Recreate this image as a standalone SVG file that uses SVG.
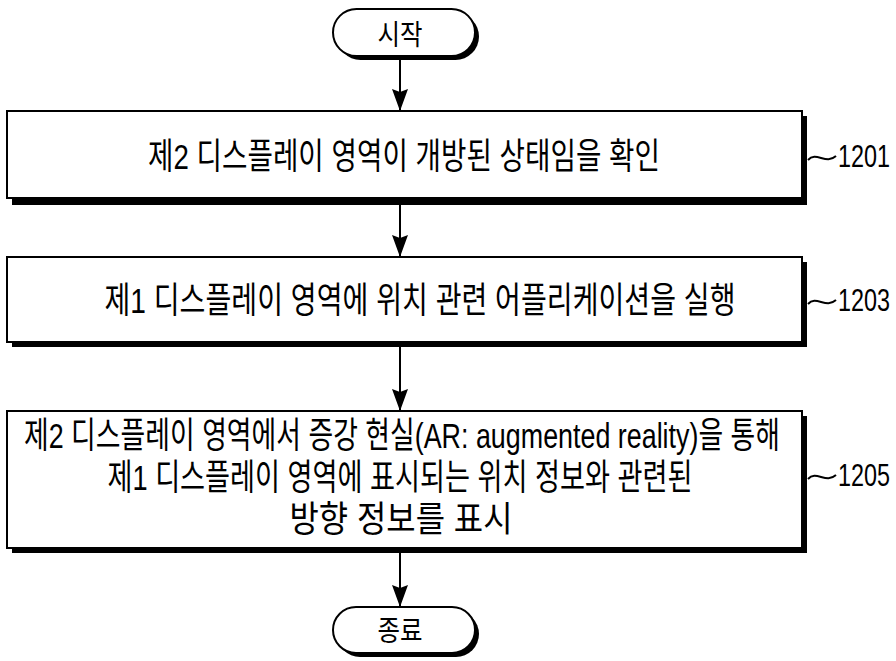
<svg xmlns="http://www.w3.org/2000/svg" width="896" height="661" viewBox="0 0 896 661">
<style>
.box{fill:#fff;stroke:#000;stroke-width:2}
.sh{fill:#000}
.t{font-family:"Liberation Sans","Noto Sans CJK KR",sans-serif;font-size:26px;fill:#000}
.ts{font-family:"Noto Sans CJK KR",sans-serif;font-size:23px;fill:#000}
.lbl{font-family:"Liberation Sans",sans-serif;font-size:23.5px;fill:#000}
.ln{stroke:#000;stroke-width:2;fill:none}
</style>
<rect width="896" height="661" fill="#fff"/>
<g id="connectors">
<line class="ln" x1="400" y1="57" x2="400" y2="111"/>
<path d="M392,89 L400,92 L408,89 L400,111 Z"/>
<line class="ln" x1="400" y1="205" x2="400" y2="257"/>
<path d="M392,235 L400,238 L408,235 L400,257 Z"/>
<line class="ln" x1="400" y1="347" x2="400" y2="411"/>
<path d="M392,389 L400,392 L408,389 L400,411 Z"/>
<line class="ln" x1="400" y1="553" x2="400" y2="607"/>
<path d="M392,585 L400,588 L408,585 L400,607 Z"/>
</g>
<g id="start">
<rect class="sh" x="337" y="13" width="142" height="47" rx="23.5"/>
<rect class="box" x="333" y="9" width="142" height="47" rx="23.5"/>
<text class="ts" transform="translate(400,45) scale(1,1.25)" text-anchor="middle" textLength="45" lengthAdjust="spacingAndGlyphs">시작</text>
</g>
<g id="n1201">
<rect class="sh" x="12" y="116" width="795" height="89"/>
<rect class="box" x="7" y="111" width="795" height="87"/>
<text class="t" transform="translate(404,169) scale(1,1.38)" text-anchor="middle" textLength="512" lengthAdjust="spacingAndGlyphs">제2 디스플레이 영역이 개방된 상태임을 확인</text>
<path class="ln" d="M808,160 C816,151 826,165 836,156"/>
<text class="lbl" transform="translate(838,167) scale(1,1.32)" textLength="52" lengthAdjust="spacingAndGlyphs">1201</text>
</g>
<g id="n1203">
<rect class="sh" x="12" y="262" width="795" height="85"/>
<rect class="box" x="7" y="257" width="795" height="85"/>
<text class="t" transform="translate(420,313) scale(1,1.38)" text-anchor="middle" textLength="631" lengthAdjust="spacingAndGlyphs">제1 디스플레이 영역에 위치 관련 어플리케이션을 실행</text>
<path class="ln" d="M808,304 C816,295 826,309 836,300"/>
<text class="lbl" transform="translate(838,311) scale(1,1.32)" textLength="52" lengthAdjust="spacingAndGlyphs">1203</text>
</g>
<g id="n1205">
<rect class="sh" x="12" y="416" width="795" height="137"/>
<rect class="box" x="7" y="411" width="795" height="137"/>
<text class="t" transform="translate(402,448) scale(1,1.38)" text-anchor="middle" textLength="756" lengthAdjust="spacingAndGlyphs">제2 디스플레이 영역에서 증강 현실(AR: augmented reality)을 통해</text>
<text class="t" transform="translate(400,490) scale(1,1.38)" text-anchor="middle" textLength="585" lengthAdjust="spacingAndGlyphs">제1 디스플레이 영역에 표시되는 위치 정보와 관련된</text>
<text class="t" transform="translate(401,532) scale(1,1.38)" text-anchor="middle" textLength="223" lengthAdjust="spacingAndGlyphs">방향 정보를 표시</text>
<path class="ln" d="M808,479 C816,470 826,484 836,475"/>
<text class="lbl" transform="translate(838,486) scale(1,1.32)" textLength="52" lengthAdjust="spacingAndGlyphs">1205</text>
</g>
<g id="end">
<rect class="sh" x="337" y="611" width="142" height="46" rx="23"/>
<rect class="box" x="333" y="607" width="142" height="46" rx="23"/>
<text class="ts" transform="translate(400,641) scale(1,1.25)" text-anchor="middle" textLength="45" lengthAdjust="spacingAndGlyphs">종료</text>
</g>
</svg>
